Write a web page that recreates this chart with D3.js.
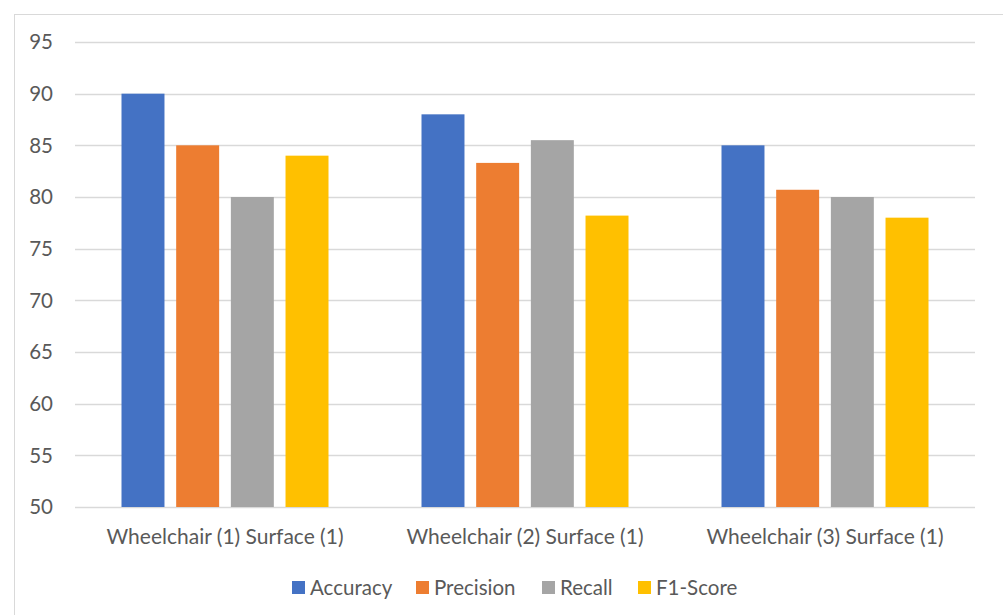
<!DOCTYPE html>
<html><head><meta charset="utf-8">
<script src="https://cdn.jsdelivr.net/npm/d3@7"></script>
<style>body{margin:0;background:#fff;} svg{display:block;}</style>
</head><body>
<svg id="c" width="1003" height="615"></svg>
<script>
const categories = ["Wheelchair (1) Surface (1)", "Wheelchair (2) Surface (1)", "Wheelchair (3) Surface (1)"];
const seriesNames = ["Accuracy", "Precision", "Recall", "F1-Score"];
const accuracy = [90, 88, 85];
const precision = [85, 83.3, 80.7];
const recall = [80, 85.5, 80];
const f1score = [84, 78.2, 78];
const yTicks = [50, 55, 60, 65, 70, 75, 80, 85, 90, 95];
const colors = ["#4472C4", "#ED7D31", "#A5A5A5", "#FFC000"];
const seriesValues = [accuracy, precision, recall, f1score];

const svg = d3.select("#c");
const font = "Lato, 'Open Sans', sans-serif";
const textColor = "#595959";

// chart border
svg.append("rect").attr("x", 14.5).attr("y", 14.5).attr("width", 1010).attr("height", 620)
  .attr("fill", "none").attr("stroke", "#D9D9D9").attr("stroke-width", 1);

const pLeft = 75, pRight = 975, pTop = 42, pBottom = 507;
const y = d3.scaleLinear().domain([50, 95]).range([pBottom, pTop]);
const x0 = d3.scaleBand().domain(categories).range([pLeft, pRight]).paddingInner(0.271).paddingOuter(0.1355);
const x1 = d3.scaleBand().domain(seriesNames).range([0, x0.bandwidth()]).paddingInner(0.214).paddingOuter(0.107);

// gridlines
svg.append("g").selectAll("line").data(yTicks).join("line")
  .attr("x1", pLeft).attr("x2", pRight)
  .attr("y1", d => Math.round(y(d)) + 0.5).attr("y2", d => Math.round(y(d)) + 0.5)
  .attr("stroke", "#D9D9D9").attr("stroke-width", 1.3);

// y tick labels
svg.append("g").selectAll("text").data(yTicks).join("text")
  .attr("x", 53).attr("y", d => y(d)).attr("dy", "0.35em")
  .attr("text-anchor", "end").attr("font-family", font).attr("font-size", 20.5)
  .attr("fill", textColor).text(d => d);

// bars
const groups = svg.append("g").selectAll("g").data(categories).join("g")
  .attr("transform", d => `translate(${x0(d)},0)`);
groups.selectAll("rect").data((c, ci) => seriesNames.map((s, si) => ({s, si, v: seriesValues[si][ci]})))
  .join("rect")
  .attr("x", d => x1(d.s)).attr("width", x1.bandwidth())
  .attr("y", d => y(d.v)).attr("height", d => pBottom - y(d.v))
  .attr("fill", d => colors[d.si]);

// x labels
svg.append("g").selectAll("text").data(categories).join("text")
  .attr("x", d => x0(d) + x0.bandwidth() / 2).attr("y", 537).attr("dy", "0.35em")
  .attr("text-anchor", "middle").attr("font-family", font).attr("font-size", 21)
  .attr("fill", textColor).text(d => d);

// legend
const legendX = [292, 416, 542, 638];
const lg = svg.append("g").selectAll("g").data(seriesNames).join("g")
  .attr("transform", (d, i) => `translate(${legendX[i]},581)`);
lg.append("rect").attr("width", 13).attr("height", 13).attr("fill", (d, i) => colors[i]);
lg.append("text").attr("x", 18).attr("y", 6.5).attr("dy", "0.35em")
  .attr("font-family", font).attr("font-size", 20.5).attr("fill", textColor).text(d => d);
</script>
</body></html>
